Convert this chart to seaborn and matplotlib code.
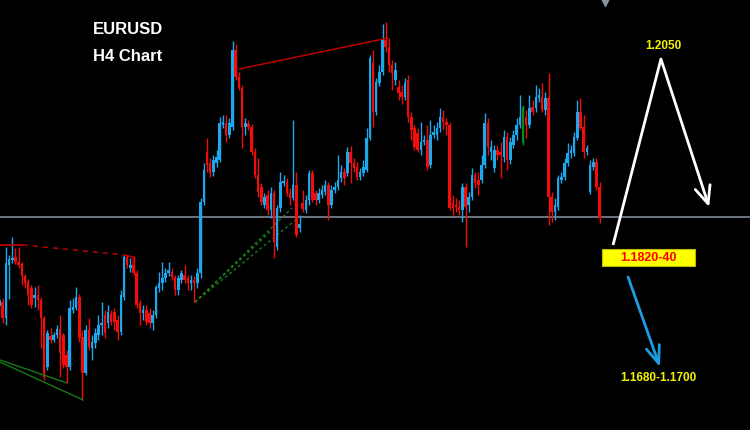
import numpy as np
import pandas as pd
import matplotlib
matplotlib.use("Agg")
import matplotlib.pyplot as plt
from matplotlib.patches import Rectangle
import seaborn as sns

# ---------------- data (EURUSD H4 candles) ----------------
opens = [
    1.1804, 1.1808, 1.1792, 1.1845, 1.1850, 1.1853, 1.1848, 1.1846, 1.1834, 1.1828,
    1.1822, 1.1812, 1.1815, 1.1810, 1.1792, 1.1743, 1.1774, 1.1770, 1.1775, 1.1781,
    1.1775, 1.1755, 1.1743, 1.1800, 1.1802, 1.1813, 1.1773, 1.1737, 1.1780, 1.1762,
    1.1767, 1.1775,
    1.1785, 1.1795, 1.1787, 1.1796, 1.1798, 1.1790, 1.1778, 1.1813, 1.1853, 1.1842,
    1.1845, 1.1837, 1.1807, 1.1797, 1.1800, 1.1797, 1.1787, 1.1795, 1.1822, 1.1827,
    1.1832, 1.1837, 1.1838, 1.1833, 1.1820, 1.1830, 1.1835, 1.1832, 1.1827, 1.1830,
    1.1827, 1.1837, 1.1908, 1.1958, 1.1947, 1.1938, 1.1947, 1.1950, 1.1985, 1.1987,
    1.1975, 1.1983, 1.2060, 1.2033, 1.2022, 1.1983, 1.1986, 1.1983, 1.1958, 1.1935,
    1.1923, 1.1905, 1.1915, 1.1900, 1.1917, 1.1863, 1.1902, 1.1927, 1.1928, 1.1917,
    1.1912, 1.1925, 1.1882, 1.1907, 1.1900, 1.1910, 1.1937, 1.1917, 1.1910, 1.1915,
    1.1918, 1.1925, 1.1905, 1.1920, 1.1923, 1.1932, 1.1938, 1.1937, 1.1958, 1.1947,
    1.1943, 1.1933, 1.1937, 1.1940, 1.1972, 1.2047, 1.1998, 1.2027, 1.2038, 1.2070,
    1.2063, 1.2045, 1.2030, 1.2023, 1.2018, 1.2013, 1.2030, 1.1993, 1.1982, 1.1977,
    1.1960, 1.1968, 1.1970, 1.1945, 1.1975, 1.1975, 1.1982, 1.1993, 1.1988, 1.1985,
    1.1907, 1.1905, 1.1903, 1.1900, 1.1923, 1.1905, 1.1913, 1.1935, 1.1930, 1.1930,
    1.1945, 1.1987, 1.1958, 1.1942, 1.1960, 1.1958, 1.1953, 1.1973, 1.1950, 1.1965,
    1.1975, 1.1985, 1.1967, 1.1993, 1.1985, 1.2003, 1.2002, 1.2012, 1.2013, 1.2000,
    1.2012, 1.1913, 1.1898, 1.1903, 1.1930, 1.1933, 1.1947, 1.1957, 1.1957, 1.1972,
    1.1998, 1.1983, 1.1958, 1.1918, 1.1943, 1.1948, 1.1923,
]
highs = [
    1.1815, 1.1812, 1.1863, 1.1855, 1.1873, 1.1862, 1.1863, 1.1848, 1.1836, 1.1831,
    1.1825, 1.1823, 1.1825, 1.1813, 1.1794, 1.1780, 1.1782, 1.1778, 1.1785, 1.1795,
    1.1777, 1.1760, 1.1810, 1.1812, 1.1823, 1.1816, 1.1780, 1.1785, 1.1792, 1.1775,
    1.1782, 1.1795,
    1.1808, 1.1800, 1.1805, 1.1800, 1.1802, 1.1795, 1.1820, 1.1855, 1.1855, 1.1852,
    1.1854, 1.1840, 1.1810, 1.1805, 1.1805, 1.1802, 1.1800, 1.1825, 1.1838, 1.1848,
    1.1842, 1.1848, 1.1842, 1.1835, 1.1835, 1.1840, 1.1845, 1.1835, 1.1835, 1.1834,
    1.1842, 1.1912, 1.1947, 1.1972, 1.1952, 1.1955, 1.1960, 1.1993, 1.1995, 1.1995,
    1.1992, 1.2069, 1.2066, 1.2038, 1.2025, 1.1992, 1.1990, 1.1986, 1.1962, 1.1952,
    1.1927, 1.1917, 1.1920, 1.1923, 1.1920, 1.1905, 1.1938, 1.1935, 1.1932, 1.1922,
    1.1990, 1.1938, 1.1895, 1.1920, 1.1915, 1.1940, 1.1940, 1.1920, 1.1922, 1.1925,
    1.1930, 1.1928, 1.1925, 1.1928, 1.1955, 1.1945, 1.1942, 1.1963, 1.1964, 1.1952,
    1.1948, 1.1942, 1.1950, 1.1982, 1.2055, 1.2060, 1.2032, 1.2045, 1.2086, 1.2088,
    1.2072, 1.2050, 1.2048, 1.2030, 1.2025, 1.2032, 1.2035, 1.1998, 1.1985, 1.1982,
    1.1988, 1.1975, 1.1985, 1.1990, 1.1985, 1.1988, 1.2002, 1.2000, 1.1992, 1.1988,
    1.1915, 1.1912, 1.1910, 1.1927, 1.1927, 1.1918, 1.1942, 1.1938, 1.1938, 1.1955,
    1.1997, 1.1992, 1.1970, 1.1965, 1.1965, 1.1968, 1.1980, 1.1978, 1.1973, 1.1980,
    1.1992, 1.2015, 1.2005, 1.2000, 1.2015, 1.2010, 1.2025, 1.2022, 1.2027, 1.2018,
    1.2037, 1.1918, 1.1912, 1.1935, 1.1938, 1.1952, 1.1967, 1.1965, 1.1978, 1.2010,
    1.2012, 1.1995, 1.1965, 1.1950, 1.1952, 1.1952, 1.1928,
]
lows = [
    1.1800, 1.1787, 1.1785, 1.1811, 1.1847, 1.1846, 1.1842, 1.1825, 1.1822, 1.1805,
    1.1802, 1.1803, 1.1800, 1.1762, 1.1730, 1.1740, 1.1767, 1.1768, 1.1772, 1.1733,
    1.1742, 1.1727, 1.1740, 1.1797, 1.1800, 1.1768, 1.1710, 1.1735, 1.1760, 1.1750,
    1.1762, 1.1770,
    1.1775, 1.1772, 1.1782, 1.1785, 1.1780, 1.1770, 1.1775, 1.1810, 1.1842, 1.1838,
    1.1835, 1.1802, 1.1785, 1.1790, 1.1785, 1.1782, 1.1780, 1.1792, 1.1818, 1.1820,
    1.1828, 1.1834, 1.1830, 1.1815, 1.1815, 1.1827, 1.1827, 1.1820, 1.1820, 1.1808,
    1.1822, 1.1832, 1.1905, 1.1938, 1.1933, 1.1934, 1.1943, 1.1948, 1.1982, 1.1968,
    1.1972, 1.1980, 1.2030, 1.2020, 1.1962, 1.1975, 1.1980, 1.1955, 1.1932, 1.1913,
    1.1905, 1.1902, 1.1895, 1.1892, 1.1852, 1.1860, 1.1898, 1.1924, 1.1914, 1.1905,
    1.1910, 1.1873, 1.1878, 1.1898, 1.1897, 1.1905, 1.1908, 1.1905, 1.1907, 1.1912,
    1.1915, 1.1890, 1.1902, 1.1917, 1.1920, 1.1928, 1.1925, 1.1934, 1.1927, 1.1938,
    1.1930, 1.1930, 1.1934, 1.1938, 1.1970, 1.1983, 1.1995, 1.2024, 1.2035, 1.2058,
    1.2038, 1.2020, 1.2025, 1.2010, 1.2006, 1.2010, 1.1988, 1.1970, 1.1960, 1.1958,
    1.1955, 1.1965, 1.1940, 1.1942, 1.1972, 1.1970, 1.1978, 1.1980, 1.1975, 1.1900,
    1.1895, 1.1898, 1.1895, 1.1888, 1.1863, 1.1898, 1.1910, 1.1922, 1.1915, 1.1927,
    1.1942, 1.1955, 1.1950, 1.1938, 1.1950, 1.1932, 1.1948, 1.1940, 1.1946, 1.1962,
    1.1970, 1.1982, 1.1965, 1.1972, 1.1982, 1.1995, 1.1998, 1.2008, 1.1998, 1.1995,
    1.1885, 1.1888, 1.1890, 1.1900, 1.1927, 1.1930, 1.1944, 1.1952, 1.1954, 1.1970,
    1.1980, 1.1952, 1.1955, 1.1916, 1.1940, 1.1920, 1.1887,
]
closes = [
    1.1810, 1.1792, 1.1847, 1.1851, 1.1852, 1.1848, 1.1845, 1.1834, 1.1827, 1.1815,
    1.1805, 1.1815, 1.1810, 1.1792, 1.1733, 1.1777, 1.1770, 1.1775, 1.1781, 1.1757,
    1.1745, 1.1743, 1.1802, 1.1803, 1.1813, 1.1772, 1.1737, 1.1780, 1.1763, 1.1768,
    1.1777, 1.1785,
    1.1787, 1.1777, 1.1798, 1.1788, 1.1788, 1.1778, 1.1815, 1.1853, 1.1845, 1.1845,
    1.1837, 1.1805, 1.1797, 1.1800, 1.1788, 1.1787, 1.1795, 1.1823, 1.1827, 1.1832,
    1.1837, 1.1840, 1.1833, 1.1820, 1.1832, 1.1837, 1.1830, 1.1827, 1.1830, 1.1827,
    1.1837, 1.1908, 1.1940, 1.1945, 1.1937, 1.1950, 1.1953, 1.1987, 1.1988, 1.1975,
    1.1987, 1.2060, 1.2033, 1.2022, 1.1983, 1.1987, 1.1983, 1.1958, 1.1935, 1.1918,
    1.1908, 1.1913, 1.1900, 1.1917, 1.1868, 1.1902, 1.1928, 1.1928, 1.1917, 1.1912,
    1.1925, 1.1875, 1.1886, 1.1901, 1.1910, 1.1937, 1.1910, 1.1910, 1.1917, 1.1920,
    1.1925, 1.1905, 1.1920, 1.1923, 1.1930, 1.1938, 1.1932, 1.1958, 1.1947, 1.1942,
    1.1933, 1.1938, 1.1943, 1.1972, 1.2052, 1.1998, 1.2028, 1.2038, 1.2070, 1.2063,
    1.2045, 1.2037, 1.2040, 1.2017, 1.2013, 1.2027, 1.1993, 1.1980, 1.1963, 1.1960,
    1.1968, 1.1970, 1.1943, 1.1975, 1.1978, 1.1982, 1.1993, 1.1988, 1.1985, 1.1902,
    1.1902, 1.1903, 1.1900, 1.1923, 1.1903, 1.1913, 1.1935, 1.1927, 1.1925, 1.1945,
    1.1987, 1.1963, 1.1963, 1.1960, 1.1955, 1.1955, 1.1973, 1.1950, 1.1968, 1.1975,
    1.1985, 1.1993, 1.2003, 1.1985, 1.2002, 1.1998, 1.2013, 1.2015, 1.2000, 1.2012,
    1.1913, 1.1898, 1.1905, 1.1932, 1.1933, 1.1947, 1.1957, 1.1960, 1.1973, 1.1998,
    1.1982, 1.1958, 1.1962, 1.1945, 1.1948, 1.1923, 1.1892,
]
highlight_candle = 164          # the single green candle
support_level = 1.1893          # horizontal grey line

title_lines = ["EURUSD", "H4 Chart"]
target_up_label = "1.2050"
zone_label = "1.1820-40"
target_down_label = "1.1680-1.1700"

# trend / pattern lines (candle index, price)
red_top_line = ([75.0, 121.7], [1.2041, 1.2072])
red_left_solid = ([0.16, 7.4], [1.1865, 1.1865])
red_left_dashed = ([7.4, 39.3], [1.1865, 1.1855])
red_left_tail = ([39.3, 41.8, 41.8], [1.1855, 1.1853, 1.1845])
green_lines = [([0.16, 21.1], [1.1750, 1.1727]), ([0.16, 26.2], [1.1748, 1.1710])]
green_dotted = [([61.25, 84.7], [1.1808, 1.1878]),
                ([61.25, 91.6], [1.1808, 1.1902]),
                ([61.25, 93.5], [1.1808, 1.1892])]
white_path = ([192.2, 207.2, 222.3], [1.1865, 1.2051, 1.1903])
blue_path = ([196.9, 206.9], [1.1833, 1.1743])
zone_box = (188.8, 217.9, 1.1844, 1.1861)

# ---------------- drawing ----------------
sns.set_theme(style="dark")
plt.rcParams["font.family"] = ["Liberation Sans", "DejaVu Sans"]

BLUE = "#1ca8ec"
RED = "#f20c0c"
GREEN = "#0a8a1a"
YELLOW = "#f2f200"

df = pd.DataFrame({"open": opens, "high": highs, "low": lows, "close": closes})
df["idx"] = np.arange(len(df))
df["color"] = np.where(df["close"] >= df["open"], BLUE, RED)
df.loc[highlight_candle, "color"] = GREEN

fig = plt.figure(figsize=(7.5, 4.3), dpi=100, facecolor="black")
ax = fig.add_axes([0, 0, 1, 1])
ax.set_facecolor("black")

# wicks
ax.vlines(df["idx"], df["low"], df["high"], colors=df["color"], linewidth=1.0, zorder=3)
# bodies
bottom = np.minimum(df["open"], df["close"])
height = np.maximum(np.abs(df["close"] - df["open"]), 0.00015)
ax.bar(df["idx"], height, bottom=bottom, width=0.8, color=df["color"],
       linewidth=0, zorder=4)

# support line
ax.axhline(support_level, color="#7d8894", linewidth=1.2, zorder=2)

# pattern lines
ax.plot(*red_top_line, color="#c80000", lw=1.0, zorder=5)
ax.plot(*red_left_solid, color="#c80000", lw=1.2, zorder=5)
ax.plot(*red_left_dashed, color="#b00000", lw=1.2, ls=(0, (3, 3)), zorder=5)
ax.plot(*red_left_tail, color="#c80000", lw=1.0, zorder=5)
for xs, ys in green_lines:
    ax.plot(xs, ys, color="#167a16", lw=1.0, zorder=5)
for xs, ys in green_dotted:
    ax.plot(xs, ys, color="#168016", lw=1.0, ls=(0, (2, 2)), zorder=2)

# projected path arrows
ax.plot(white_path[0][:2], white_path[1][:2], color="white", lw=2, zorder=6,
        solid_capstyle="butt")
ax.annotate("", xy=(white_path[0][2], white_path[1][2]),
            xytext=(white_path[0][1], white_path[1][1]),
            arrowprops=dict(arrowstyle="->,head_length=0.9,head_width=0.4",
                            color="white", lw=2, shrinkA=0, shrinkB=0,
                            mutation_scale=14), zorder=6)
ax.annotate("", xy=(blue_path[0][1], blue_path[1][1]),
            xytext=(blue_path[0][0], blue_path[1][0]),
            arrowprops=dict(arrowstyle="->,head_length=0.9,head_width=0.35",
                            color="#1c9de0", lw=2, shrinkA=0, shrinkB=0,
                            mutation_scale=14), zorder=6)

# zone box
x0, x1, y0, y1 = zone_box
ax.add_patch(Rectangle((x0, y0), x1 - x0, y1 - y0, facecolor="#ffff00",
                       edgecolor="#bdbd00", lw=0.8, zorder=7))
ax.text((x0 + x1) / 2, (y0 + y1) / 2, zone_label, color="#ff0000", fontsize=9,
        fontweight="bold", ha="center", va="center", zorder=8)

ax.text(207.9, 1.2064, target_up_label, color=YELLOW, fontsize=8.5,
        fontweight="bold", ha="center", va="center", zorder=8)
ax.text(206.3, 1.1732, target_down_label, color=YELLOW, fontsize=8.5,
        fontweight="bold", ha="center", va="center", zorder=8)

# title text
ax.text(0.17, 0.932, title_lines[0], transform=ax.transAxes, color="white",
        fontsize=12, fontweight="bold", ha="center", va="center")
ax.text(0.17, 0.868, title_lines[1], transform=ax.transAxes, color="white",
        fontsize=12, fontweight="bold", ha="center", va="center")

# small marker at top
ax.plot([189.7], [1.2108], marker="v", color="#8a939c", ms=6, zorder=8)

ax.set_xlim(0.16, 235.1)
ax.set_ylim(1.1680, 1.2110)
ax.axis("off")

fig.savefig("out.png", dpi=100, facecolor="black")
